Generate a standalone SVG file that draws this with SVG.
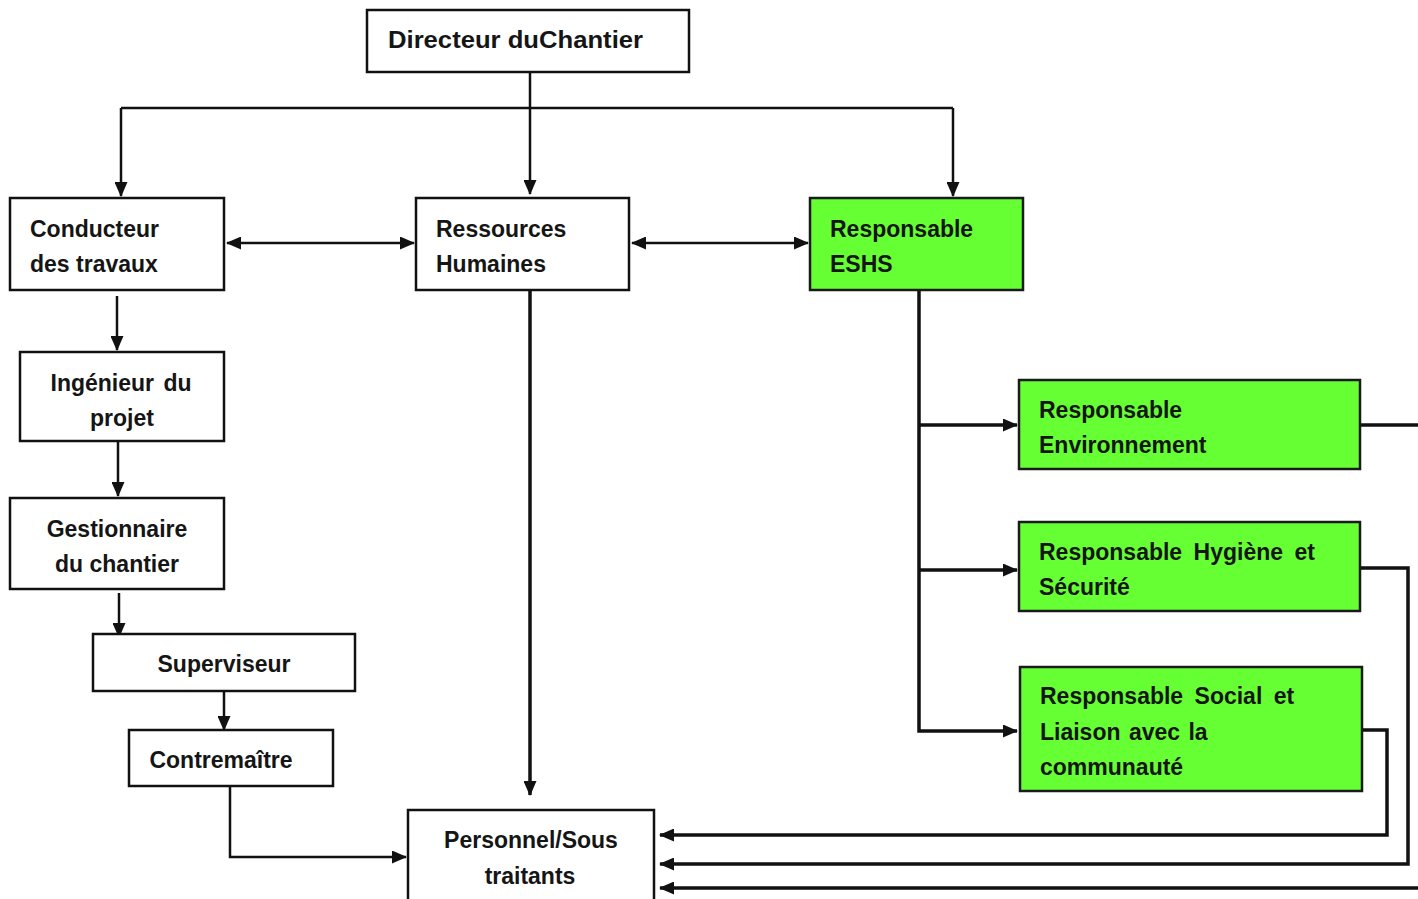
<svg xmlns="http://www.w3.org/2000/svg" width="1418" height="899" viewBox="0 0 1418 899">
<defs>
<marker id="ah" markerUnits="userSpaceOnUse" markerWidth="15" markerHeight="13" refX="14" refY="6.5" orient="auto-start-reverse">
<path d="M0,0 L15,6.5 L0,13 z" fill="#111"/>
</marker>
<style>
.box{fill:#fff;stroke:#111;stroke-width:2.5}
.green{fill:#66ff33;stroke:#1a1a1a;stroke-width:2.5}
.t{font-family:"Liberation Sans",Arial,sans-serif;font-weight:bold;font-size:23px;fill:#151515}
.tc{text-anchor:middle}
.ln{fill:none;stroke:#111;stroke-width:2.5}
.lk{fill:none;stroke:#111;stroke-width:3.5}
</style>
</defs>
<rect width="1418" height="899" fill="#fff"/>

<g id="connectors">
<path class="ln" d="M530,72 L530,194" marker-end="url(#ah)"/>
<path class="ln" d="M121,108 L953,108"/>
<path class="ln" d="M121,108 L121,196" marker-end="url(#ah)"/>
<path class="ln" d="M953,108 L953,196" marker-end="url(#ah)"/>
<path class="ln" d="M227,243 L414,243" marker-start="url(#ah)" marker-end="url(#ah)"/>
<path class="ln" d="M632,243 L808,243" marker-start="url(#ah)" marker-end="url(#ah)"/>
<path class="ln" d="M117,296 L117,350" marker-end="url(#ah)"/>
<path class="ln" d="M118,441 L118,496" marker-end="url(#ah)"/>
<path class="ln" d="M119,593 L119,637" marker-end="url(#ah)"/>
<path class="ln" d="M224,691 L224,730" marker-end="url(#ah)"/>
<path class="ln" d="M230,786 L230,857 L406,857" marker-end="url(#ah)"/>
<path class="lk" d="M530,291 L530,795" marker-end="url(#ah)"/>
<path class="lk" d="M919,290 L919,731 L1017,731" marker-end="url(#ah)"/>
<path class="lk" d="M919,425 L1017,425" marker-end="url(#ah)"/>
<path class="lk" d="M919,570 L1017,570" marker-end="url(#ah)"/>
<path class="lk" d="M1360,425 L1418,425"/>
<path class="lk" d="M1360,568 L1408,568 L1408,864 L660,864" marker-end="url(#ah)"/>
<path class="lk" d="M1362,730 L1387,730 L1387,835 L660,835" marker-end="url(#ah)"/>
<path class="lk" d="M1418,888 L660,888" marker-end="url(#ah)"/>
</g>

<g id="directeur">
<rect class="box" x="367" y="10" width="322" height="62"/>
<text class="t" x="388" y="48" font-size="24" style="font-family:'Liberation Sans',Carlito,sans-serif;font-size:24px" textLength="255" lengthAdjust="spacingAndGlyphs">Directeur duChantier</text>
</g>

<g id="conducteur">
<rect class="box" x="10" y="198" width="214" height="92"/>
<text class="t" x="30" y="237">Conducteur</text>
<text class="t" x="30" y="272">des travaux</text>
</g>

<g id="ressources">
<rect class="box" x="416" y="198" width="213" height="92"/>
<text class="t" x="436" y="237">Ressources</text>
<text class="t" x="436" y="272">Humaines</text>
</g>

<g id="eshs">
<rect class="green" x="810" y="198" width="213" height="92"/>
<text class="t" x="830" y="237">Responsable</text>
<text class="t" x="830" y="272">ESHS</text>
</g>

<g id="ingenieur">
<rect class="box" x="20" y="352" width="204" height="89"/>
<text class="t tc" x="121" y="391" word-spacing="3">Ingénieur du</text>
<text class="t tc" x="122" y="426">projet</text>
</g>

<g id="gestionnaire">
<rect class="box" x="10" y="498" width="214" height="91"/>
<text class="t tc" x="117" y="537">Gestionnaire</text>
<text class="t tc" x="117" y="572">du chantier</text>
</g>

<g id="superviseur">
<rect class="box" x="93" y="634" width="262" height="57"/>
<text class="t tc" x="224" y="672">Superviseur</text>
</g>

<g id="contremaitre">
<rect class="box" x="129" y="730" width="204" height="56"/>
<text class="t tc" x="221" y="768">Contremaître</text>
</g>

<g id="personnel">
<rect class="box" x="408" y="810" width="246" height="100"/>
<text class="t tc" x="531" y="848">Personnel/Sous</text>
<text class="t tc" x="530" y="884">traitants</text>
</g>

<g id="environnement">
<rect class="green" x="1019" y="380" width="341" height="89"/>
<text class="t" x="1039" y="418">Responsable</text>
<text class="t" x="1039" y="453">Environnement</text>
</g>

<g id="hygiene">
<rect class="green" x="1019" y="522" width="341" height="89"/>
<text class="t" x="1039" y="560" word-spacing="5">Responsable Hygiène et</text>
<text class="t" x="1039" y="595">Sécurité</text>
</g>

<g id="social">
<rect class="green" x="1020" y="667" width="342" height="124"/>
<text class="t" x="1040" y="704" word-spacing="5">Responsable Social et</text>
<text class="t" x="1040" y="740" word-spacing="2">Liaison avec la</text>
<text class="t" x="1040" y="775">communauté</text>
</g>
</svg>
